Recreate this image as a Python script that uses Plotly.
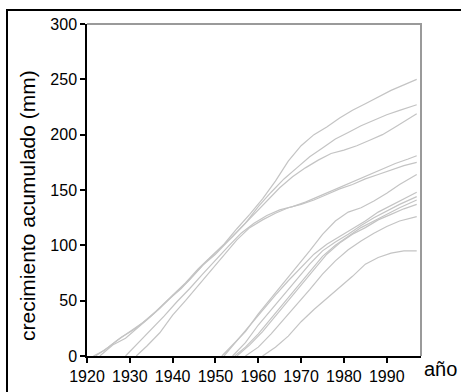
import plotly.graph_objects as go

# ---- data ----
a1_years = [1922, 1925, 1928, 1931, 1934, 1937, 1940, 1943, 1946, 1949, 1952, 1955, 1958, 1961, 1964, 1967, 1970, 1973, 1976, 1979, 1982, 1985, 1988, 1991, 1994, 1997]
a1_vals = [0, 8, 17, 24, 33, 43, 55, 66, 79, 90, 101, 115, 128, 142, 158, 176, 190, 200, 207, 215, 222, 228, 234, 240, 245, 250]

a2_years = [1921.5, 1924, 1927, 1930, 1933, 1936, 1939, 1942, 1945, 1948, 1951, 1954, 1957, 1960, 1963, 1966, 1969, 1972, 1975, 1978, 1981, 1984, 1987, 1990, 1993, 1997]
a2_vals = [0, 5, 14, 22, 30, 40, 51, 61, 74, 86, 97, 108, 120, 135, 148, 160, 170, 180, 188, 196, 202, 208, 213, 218, 222, 227]

a3_years = [1923, 1926, 1929, 1932, 1935, 1938, 1941, 1944, 1947, 1950, 1953, 1956, 1959, 1962, 1965, 1968, 1971, 1974, 1977, 1980, 1983, 1986, 1989, 1992, 1995, 1997]
a3_vals = [0, 10, 16, 26, 36, 47, 58, 69, 82, 92, 104, 116, 128, 140, 152, 162, 170, 177, 183, 186, 190, 195, 200, 207, 214, 219]

a4_years = [1929, 1932, 1935, 1938, 1941, 1944, 1947, 1950, 1953, 1956, 1959, 1962, 1965, 1968, 1971, 1974, 1977, 1980, 1983, 1986, 1989, 1992, 1995, 1997]
a4_vals = [0, 12, 24, 36, 49, 61, 74, 87, 99, 111, 120, 127, 132, 135, 139, 144, 149, 154, 159, 164, 169, 174, 178, 181]

a5_years = [1931.5, 1934, 1937, 1940, 1943, 1946, 1949, 1952, 1955, 1958, 1961, 1964, 1967, 1970, 1973, 1976, 1979, 1982, 1985, 1988, 1991, 1994, 1997]
a5_vals = [0, 9, 21, 37, 50, 64, 78, 92, 105, 116, 123, 129, 134, 137, 141, 146, 151, 155, 160, 164, 168, 172, 175]

b1_years = [1951.5, 1954, 1957, 1960, 1963, 1966, 1969, 1972, 1975, 1978, 1981, 1984, 1987, 1990, 1993, 1997]
b1_vals = [0, 10, 22, 38, 52, 66, 80, 95, 110, 122, 130, 134, 140, 147, 155, 164]

b2_years = [1952, 1955, 1958, 1961, 1964, 1967, 1970, 1973, 1976, 1979, 1982, 1985, 1988, 1991, 1994, 1997]
b2_vals = [0, 14, 28, 42, 55, 68, 80, 92, 101, 108, 115, 122, 130, 136, 142, 148]

b3_years = [1954, 1957, 1960, 1963, 1966, 1969, 1972, 1975, 1978, 1981, 1984, 1987, 1990, 1993, 1997]
b3_vals = [0, 12, 28, 42, 56, 70, 83, 95, 103, 110, 118, 125, 131, 137, 144]

b4_years = [1954.5, 1957, 1960, 1963, 1966, 1969, 1972, 1975, 1978, 1981, 1984, 1987, 1990, 1993, 1997]
b4_vals = [0, 8, 20, 34, 48, 62, 76, 90, 100, 108, 116, 122, 128, 134, 141]

b5_years = [1955, 1958, 1961, 1964, 1967, 1970, 1973, 1976, 1979, 1982, 1985, 1988, 1991, 1994, 1997]
b5_vals = [0, 10, 22, 36, 50, 64, 78, 92, 102, 110, 116, 123, 128, 133, 137]

b6_years = [1957, 1960, 1963, 1966, 1969, 1972, 1975, 1978, 1981, 1984, 1987, 1990, 1993, 1997]
b6_vals = [0, 8, 20, 33, 46, 60, 74, 86, 96, 104, 111, 117, 122, 126]

b7_years = [1961, 1964, 1967, 1970, 1973, 1976, 1979, 1982, 1985, 1988, 1991, 1994, 1997]
b7_vals = [0, 8, 18, 31, 42, 52, 62, 72, 83, 89, 93, 95, 95]

series = [
    (a1_years, a1_vals), (a2_years, a2_vals), (a3_years, a3_vals),
    (a4_years, a4_vals), (a5_years, a5_vals),
    (b1_years, b1_vals), (b2_years, b2_vals), (b3_years, b3_vals),
    (b4_years, b4_vals), (b5_years, b5_vals), (b6_years, b6_vals),
    (b7_years, b7_vals),
]

x_ticks = [1920, 1930, 1940, 1950, 1960, 1970, 1980, 1990]
y_ticks = [0, 50, 100, 150, 200, 250, 300]

FONT = "Liberation Sans, Arial, sans-serif"

fig = go.Figure()
for yrs, vals in series:
    fig.add_trace(go.Scatter(x=yrs, y=vals, mode="lines",
                             line=dict(color="#c4c4c4", width=1.2),
                             showlegend=False, hoverinfo="skip"))

W, H = 461, 392
L, R, T, B = 87, 40, 24, 36
pw, ph = W - L - R, H - T - B

fig.update_layout(
    width=W, height=H,
    margin=dict(l=L, r=R, t=T, b=B, pad=0),
    paper_bgcolor="white", plot_bgcolor="white",
    font=dict(family=FONT, size=16, color="black"),
    xaxis=dict(range=[1920, 1998], tickvals=x_ticks, ticks="outside", ticklen=5,
               tickcolor="black", tickwidth=1.5, showline=True, linecolor="black",
               linewidth=1.5, showgrid=False, zeroline=False, automargin=False,
               tickfont=dict(family=FONT, size=16, color="black")),
    yaxis=dict(range=[0, 300], tickvals=y_ticks, ticks="outside", ticklen=5,
               tickcolor="black", tickwidth=1.5, showline=True, linecolor="black",
               linewidth=1.5, showgrid=False, zeroline=False, automargin=False,
               tickfont=dict(family=FONT, size=16, color="black")),
)

# gray top/right frame of the plot area
fig.add_shape(type="path", xref="paper", yref="paper",
              path="M 0,1 L 1,1 L 1,0", line=dict(color="#9a9a9a", width=2))
# outer black border (left and top edges visible)
bx = (7 - L) / pw
by = (H - B - 10) / ph
fig.add_shape(type="path", xref="paper", yref="paper",
              path=f"M {bx},{-0.2} L {bx},{by} L {1.2},{by}",
              line=dict(color="black", width=2))

fig.add_annotation(text="crecimiento acumulado (mm)", xref="paper", yref="paper",
                   x=(28 - L) / pw, y=(H - B - 206) / ph, textangle=-90,
                   showarrow=False, xanchor="center", yanchor="middle",
                   font=dict(family=FONT, size=21, color="black"))
fig.add_annotation(text="año", xref="paper", yref="paper",
                   x=(440 - L) / pw, y=(H - B - 369) / ph,
                   showarrow=False, xanchor="center", yanchor="middle",
                   font=dict(family=FONT, size=20, color="black"))

fig.write_html("out.html", config={"displayModeBar": False},
               post_script="document.body.style.margin='0px';document.body.style.overflow='hidden';")
